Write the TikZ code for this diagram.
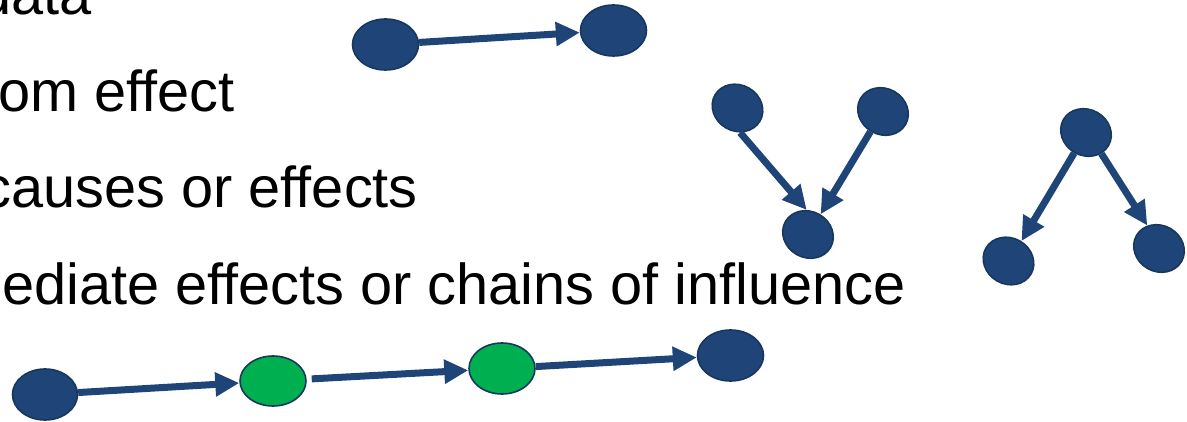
\documentclass[tikz,border=0pt]{standalone}
\usepackage{fontspec}
\setmainfont{Liberation Sans}
\usetikzlibrary{arrows.meta,shapes.geometric}
\definecolor{nodeblue}{HTML}{1F4478}
\definecolor{edgeblue}{HTML}{17375E}
\definecolor{nodegreen}{HTML}{00B050}
\tikzset{
  bnode/.style={ellipse, draw=edgeblue, line width=1.6pt, fill=nodeblue, inner sep=0pt},
  gnode/.style={ellipse, draw=edgeblue, line width=1.6pt, fill=nodegreen, inner sep=0pt},
  wide/.style={minimum width=66pt, minimum height=51pt},
  tilt/.style={minimum width=52pt, minimum height=46pt, rotate=-30},
  arr/.style={draw=nodeblue, line width=7pt, -{Triangle[length=24pt,width=23pt]}},
  txt/.style={font=\fontsize{57.7}{68}\selectfont, inner sep=0pt, anchor=base east}
}
\begin{document}
\begin{tikzpicture}[x=1pt,y=-1pt]
\useasboundingbox (0,0) rectangle (1187,422);
\clip (0,0) rectangle (1187,422);
% text lines
\node[txt] (t1) at (92,15) {data};
\node[txt] (t2) at (235,111.5) {om effect};
\node[txt] (t3) at (418,208) {causes or effects};
\node[txt] (t4) at (906,304.5) {ediate effects or chains of influence};
% direct effect
\node[bnode, wide] (A1) at (385.5,44.5) {};
\node[bnode, wide] (A2) at (613.5,30.5) {};
\draw[arr] (A1) -- (A2);
% collider
\node[bnode, tilt] (C1) at (737.5,108) {};
\node[bnode, tilt] (C2) at (883,111.5) {};
\node[bnode, tilt] (C3) at (808,234.5) {};
\draw[arr] (C1.306) -- (C3.123);
\draw[arr] (C2.268) -- (C3.88);
% fork
\node[bnode, tilt] (F1) at (1086,132.5) {};
\node[bnode, tilt] (F2) at (1008.5,261) {};
\node[bnode, tilt] (F3) at (1159,248.5) {};
\draw[arr] (F1.270) -- (F2.87);
\draw[arr] (F1.336) -- (F3.147);
% chain
\node[bnode, minimum width=65pt, minimum height=51pt] (D1) at (45,394.5) {};
\node[gnode, minimum width=66pt, minimum height=50pt] (G1) at (273,381) {};
\node[gnode, wide] (G2) at (502,368.5) {};
\node[bnode, wide] (D2) at (730.5,355.5) {};
\draw[arr] (D1) -- (G1);
\draw[arr, shorten <=5pt] (G1) -- (G2);
\draw[arr] (G2) -- (D2);
\end{tikzpicture}
\end{document}
